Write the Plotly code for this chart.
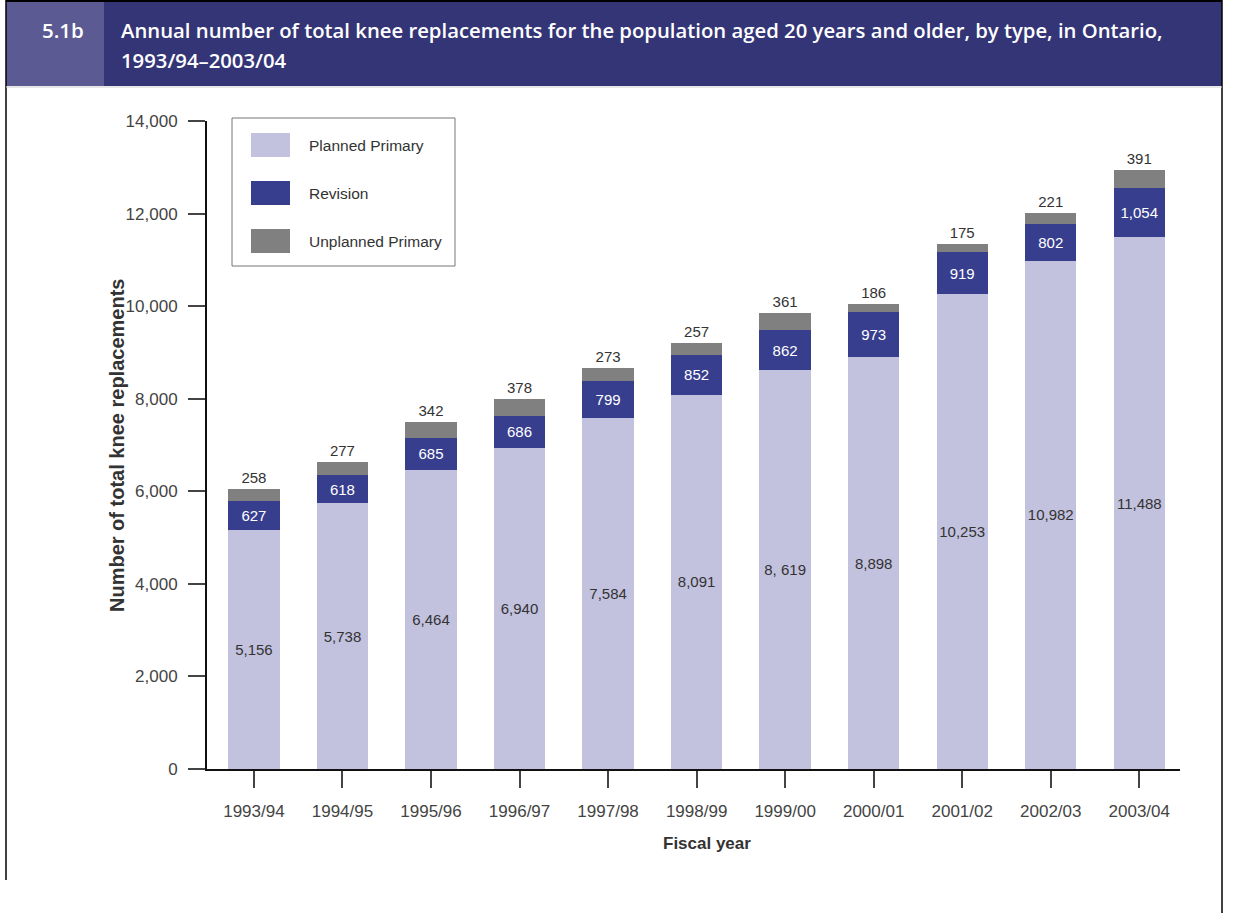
import plotly.graph_objects as go

years = ["1993/94", "1994/95", "1995/96", "1996/97", "1997/98", "1998/99",
         "1999/00", "2000/01", "2001/02", "2002/03", "2003/04"]
planned = [5156, 5738, 6464, 6940, 7584, 8091, 8619, 8898, 10253, 10982, 11488]
planned_labels = ["5,156", "5,738", "6,464", "6,940", "7,584", "8,091",
                  "8, 619", "8,898", "10,253", "10,982", "11,488"]
revision = [627, 618, 685, 686, 799, 852, 862, 973, 919, 802, 1054]
unplanned = [258, 277, 342, 378, 273, 257, 361, 186, 175, 221, 391]
series_names = ["Planned Primary", "Revision", "Unplanned Primary"]
series_colors = ["#c2c1de", "#373e8e", "#808080"]

W, H = 1233, 913
L, R, T, B = 207, 1180, 121, 769
FONT = "Liberation Sans, Arial, sans-serif"
TFONT = "Open Sans, Noto Sans, sans-serif"


def px(x):
    return (x - L) / (R - L)


def py(y):
    return (B - y) / (B - T)


fig = go.Figure()
fig.add_trace(go.Bar(
    x=years, y=planned, name=series_names[0], marker_color=series_colors[0],
    marker_line_width=0, text=planned_labels, textposition="inside",
    insidetextanchor="middle", textangle=0, constraintext="none",
    textfont=dict(family=FONT, size=15, color="#333333"), showlegend=False))
fig.add_trace(go.Bar(
    x=years, y=revision, name=series_names[1], marker_color=series_colors[1],
    marker_line_width=0, text=[f"{v:,}" for v in revision], textposition="inside",
    insidetextanchor="middle", textangle=0, constraintext="none",
    textfont=dict(family=FONT, size=15, color="#ffffff"), showlegend=False))
fig.add_trace(go.Bar(
    x=years, y=unplanned, name=series_names[2], marker_color=series_colors[2],
    marker_line_width=0, text=[f"{v:,}" for v in unplanned], textposition="outside",
    textangle=0, cliponaxis=False, constraintext="none",
    textfont=dict(family=FONT, size=15, color="#333333"), showlegend=False))

shapes = []
annotations = []

# page frame
shapes.append(dict(type="line", xref="paper", yref="paper", x0=px(6), x1=px(6),
                   y0=py(0), y1=py(880), line=dict(color="#000", width=1.5)))
shapes.append(dict(type="line", xref="paper", yref="paper", x0=px(1222), x1=px(1222),
                   y0=py(0), y1=py(913), line=dict(color="#000", width=1.5)))
shapes.append(dict(type="line", xref="paper", yref="paper", x0=px(6), x1=px(1222),
                   y0=py(1), y1=py(1), line=dict(color="#000", width=2)))
# header band
shapes.append(dict(type="rect", xref="paper", yref="paper", x0=px(6), x1=px(1222),
                   y0=py(2), y1=py(86), fillcolor="#343576", line_width=0, layer="below"))
shapes.append(dict(type="rect", xref="paper", yref="paper", x0=px(6), x1=px(104),
                   y0=py(2), y1=py(86), fillcolor="#5b5a93", line_width=0, layer="below"))
shapes.append(dict(type="line", xref="paper", yref="paper", x0=px(6), x1=px(1222),
                   y0=py(87), y1=py(87), line=dict(color="#cfcfcf", width=1)))

annotations.append(dict(xref="paper", yref="paper", x=px(40), y=py(30), xanchor="left",
                        yanchor="middle", showarrow=False, text="5.1b",
                        font=dict(family=TFONT, size=20.5, color="white", weight=600)))
annotations.append(dict(xref="paper", yref="paper", x=px(119), y=py(30), xanchor="left",
                        yanchor="middle", showarrow=False,
                        text="Annual number of total knee replacements for the population aged 20 years and older, by type, in Ontario,",
                        font=dict(family=TFONT, size=20.3, color="white", weight=600)))
annotations.append(dict(xref="paper", yref="paper", x=px(119), y=py(60), xanchor="left",
                        yanchor="middle", showarrow=False, text="1993/94\u20132003/04",
                        font=dict(family=TFONT, size=20.3, color="white", weight=600)))

# custom legend
shapes.append(dict(type="rect", xref="paper", yref="paper", x0=px(232), x1=px(455),
                   y0=py(118), y1=py(266), fillcolor="white",
                   line=dict(color="#777777", width=1)))
for i, (nm, col) in enumerate(zip(series_names, series_colors)):
    cy = 145 + 48 * i
    shapes.append(dict(type="rect", xref="paper", yref="paper", x0=px(251), x1=px(290),
                       y0=py(cy - 12), y1=py(cy + 12), fillcolor=col, line_width=0))
    annotations.append(dict(xref="paper", yref="paper", x=px(307), y=py(cy), xanchor="left",
                            yanchor="middle", showarrow=False, text=nm,
                            font=dict(family=FONT, size=15.5, color="#333333")))

# axis titles
annotations.append(dict(xref="paper", yref="paper", x=px(117), y=py(446), xanchor="center",
                        yanchor="middle", showarrow=False, textangle=-90,
                        text="<b>Number of total knee replacements</b>",
                        font=dict(family=FONT, size=20, color="#333333")))
annotations.append(dict(xref="paper", yref="paper", x=px(707), y=py(843), xanchor="center",
                        yanchor="middle", showarrow=False, text="<b>Fiscal year</b>",
                        font=dict(family=FONT, size=17, color="#333333")))

fig.update_layout(
    width=W, height=H, barmode="stack", bargap=0.42,
    margin=dict(l=L, r=W - R, t=T, b=H - B, autoexpand=False),
    paper_bgcolor="white", plot_bgcolor="white",
    shapes=shapes, annotations=annotations, showlegend=False,
    font=dict(family=FONT, color="#444444"),
)
fig.update_xaxes(
    range=[-0.53, 10.46], showline=True, linecolor="#111111", linewidth=2,
    ticks="outside", ticklen=17, tickwidth=1.5, tickcolor="#444444",
    tickfont=dict(family=FONT, size=17, color="#444444"), ticklabelstandoff=9,
    showgrid=False, zeroline=False, fixedrange=True)
fig.update_yaxes(
    range=[0, 14000], dtick=2000, tickformat=",", showline=True, linecolor="#111111",
    linewidth=2, ticks="outside", ticklen=17, tickwidth=1.5, tickcolor="#444444",
    tickfont=dict(family=FONT, size=17, color="#444444"), ticklabelstandoff=7,
    showgrid=False, zeroline=False, fixedrange=True)

fig.write_html("out.html")
